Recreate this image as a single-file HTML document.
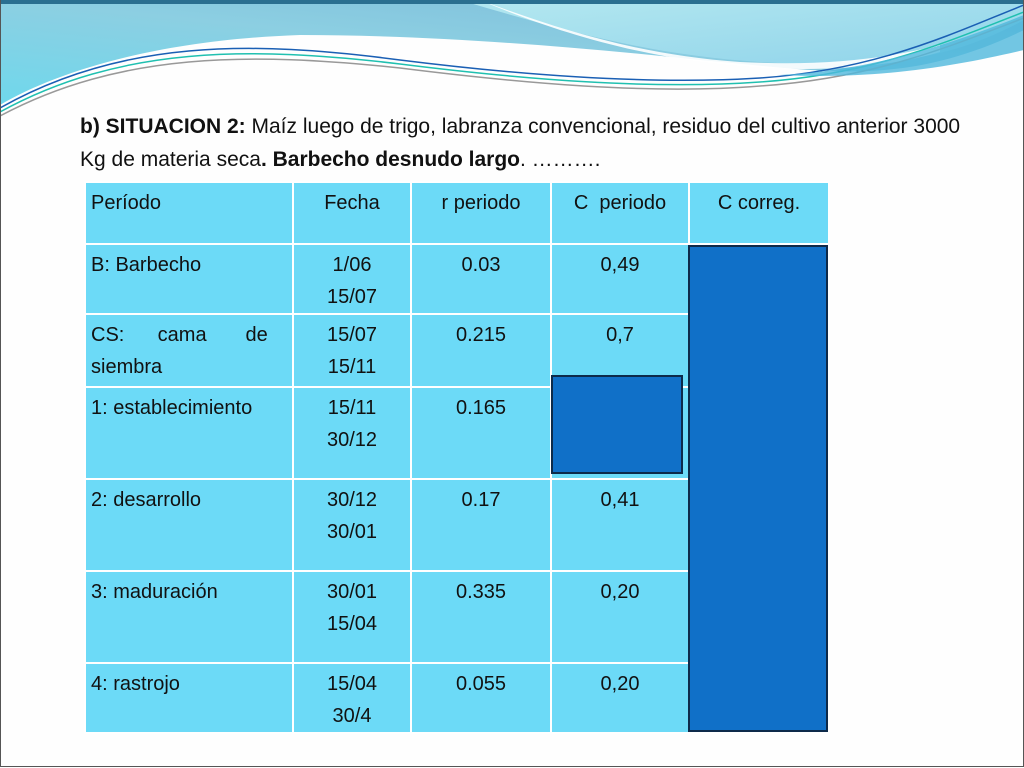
<!DOCTYPE html>
<html><head><meta charset="utf-8"><style>
html,body{margin:0;padding:0}
body{width:1024px;height:768px;position:relative;overflow:hidden;background:#fefefe;font-family:"Liberation Sans",sans-serif;color:#111}
.frame{position:absolute;left:0;top:0;width:1022px;height:766px;border:1px solid #555;border-top:none;box-sizing:content-box}
.title{position:absolute;left:80px;top:110px;font-size:21px;line-height:33px;width:900px}
table{position:absolute;left:84px;top:181px;border-collapse:collapse}
td{background:#6cdaf7;border:2px solid #fff;font-size:20px;vertical-align:top;padding:4px 5px 0 5px;line-height:32px;box-sizing:border-box}
.c{text-align:center}
.blk{position:absolute;background:#1070c8;border:2px solid #0d2a4a;box-sizing:border-box}
</style></head><body>
<svg width="1024" height="120" style="position:absolute;left:0;top:0">
<defs>
<linearGradient id="g1" x1="0" y1="1" x2="1" y2="0"><stop offset="0" stop-color="#6fd8ec"/><stop offset="0.5" stop-color="#8ccfe2"/><stop offset="1" stop-color="#7ab8d8"/></linearGradient>
<linearGradient id="g2" x1="0" y1="0" x2="1" y2="1"><stop offset="0" stop-color="#b4e8f0"/><stop offset="1" stop-color="#8fd3ea"/></linearGradient>
</defs>
<path d="M0 0 H1024 V30 C900 90 820 70 700 60 C560 45 420 35 300 35 C160 40 60 70 0 105 Z" fill="url(#g1)"/>
<path d="M460 0 H1024 V20 C950 60 880 70 760 62 C650 55 560 30 460 0 Z" fill="url(#g2)"/>
<path d="M480 0 C560 30 640 55 740 62 C820 66 880 60 940 45 L940 52 C880 70 800 72 740 66 C640 58 550 30 480 0Z" fill="#fff" opacity="0.9"/>
<path d="M0 108 C120 40 250 40 400 60 C520 75 650 85 760 78 C880 70 960 30 1024 5" stroke="#1a5fb4" stroke-width="1.5" fill="none"/>
<path d="M0 112 C120 46 250 46 400 64 C520 79 650 90 760 82 C880 74 960 36 1024 12" stroke="#20c0b0" stroke-width="1.5" fill="none"/>
<path d="M0 116 C120 52 250 52 400 68 C520 83 650 95 760 86 C880 78 960 42 1024 18" stroke="#999" stroke-width="1.5" fill="none"/>
<path d="M780 75 C880 70 960 40 1024 15 V50 C960 65 880 80 780 75Z" fill="#4fb8dc" opacity="0.8"/>
<path d="M0 0 H1024 V4 H0Z" fill="#2a6f90"/>
</svg>
<div class="frame"></div>
<div class="title"><b>b) SITUACION 2:</b> Maíz luego de trigo, labranza convencional, residuo del cultivo anterior 3000 Kg de materia seca<b>. Barbecho desnudo largo</b>. ……….</div>
<table>
<tr style="height:62px"><td style="width:208px">Período</td><td class="c" style="width:118px">Fecha</td><td class="c" style="width:140px">r periodo</td><td class="c" style="width:138px">C &nbsp;periodo</td><td class="c" style="width:140px">C correg.</td></tr>
<tr style="height:68px"><td>B: Barbecho</td><td class="c">1/06<br>15/07</td><td class="c">0.03</td><td class="c">0,49</td><td></td></tr>
<tr style="height:73px"><td style="text-align:justify;text-align-last:left">CS: &nbsp;&nbsp;&nbsp;&nbsp;&nbsp;cama &nbsp;&nbsp;&nbsp;&nbsp;&nbsp;&nbsp;de<br>siembra</td><td class="c">15/07<br>15/11</td><td class="c">0.215</td><td class="c">0,7</td><td></td></tr>
<tr style="height:92px"><td>1: establecimiento</td><td class="c">15/11<br>30/12</td><td class="c">0.165</td><td class="c"></td><td></td></tr>
<tr style="height:92px"><td>2: desarrollo</td><td class="c">30/12<br>30/01</td><td class="c">0.17</td><td class="c">0,41</td><td></td></tr>
<tr style="height:92px"><td>3: maduración</td><td class="c">30/01<br>15/04</td><td class="c">0.335</td><td class="c">0,20</td><td></td></tr>
<tr style="height:68px"><td>4: rastrojo</td><td class="c">15/04<br>30/4</td><td class="c">0.055</td><td class="c">0,20</td><td></td></tr>
</table>
<div class="blk" style="left:688px;top:245px;width:140px;height:487px"></div>
<div class="blk" style="left:551px;top:375px;width:132px;height:99px"></div>
</body></html>
